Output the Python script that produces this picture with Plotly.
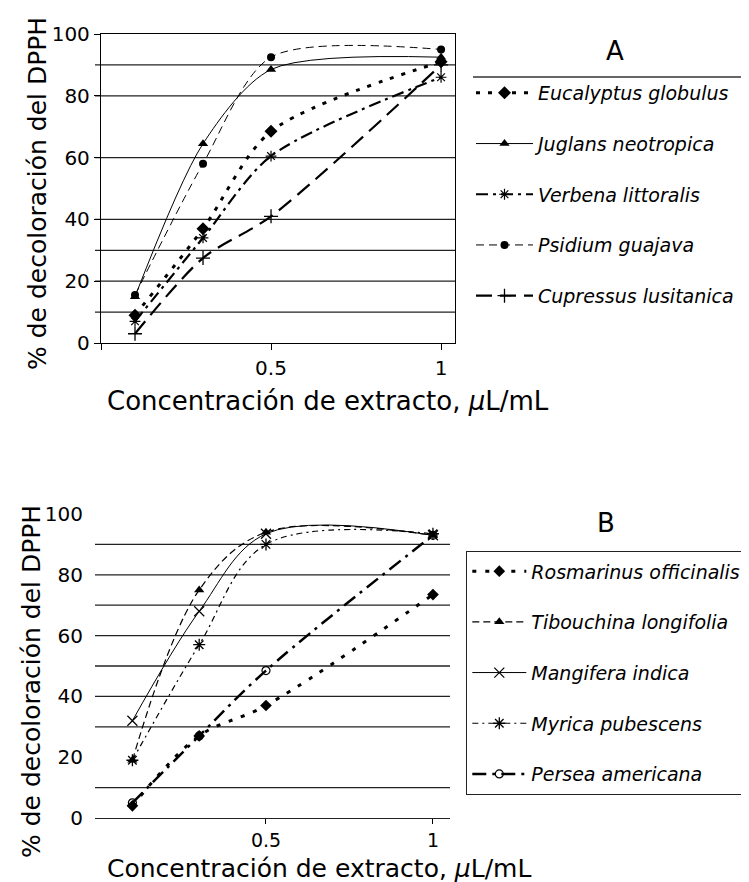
import plotly.graph_objects as go

# ---------------- data ----------------
conc = [0.1, 0.3, 0.5, 1.0]

# Panel A
series_a_names = ["Eucalyptus globulus", "Juglans neotropica", "Verbena littoralis",
                  "Psidium guajava", "Cupressus lusitanica"]
eucalyptus = [9, 37, 68.5, 91]
juglans = [15, 64.5, 88.5, 92.5]
verbena = [7, 34, 60.5, 86]
psidium = [15.5, 58, 92.5, 95]
cupressus = [3, 27.5, 41, 90]

# Panel B
series_b_names = ["Rosmarinus officinalis", "Tibouchina longifolia", "Mangifera indica",
                  "Myrica pubescens", "Persea americana"]
rosmarinus = [4, 27, 37, 73.5]
tibouchina = [19, 75, 94, 93]
mangifera = [32, 68, 93.5, 93]
myrica = [19, 57, 90, 93.5]
persea = [5, 27, 48.5, 93]

y_ticks = [0, 20, 40, 60, 80, 100]
x_tickvals_a = [0, 0.5, 1]
x_ticktext_a = ["", "0.5", "1"]
x_tickvals_b = [0.5, 1]
x_ticktext_b = ["0.5", "1"]
grid_a = [10, 20, 30, 40, 60, 80, 90]
grid_b = [10, 30, 40, 50, 60, 70, 80, 90]

# ---------------- figure ----------------
W, H = 749, 882
FONT = "DejaVu Sans"


def py(px):
    return 1 - px / H


def pxx(px):
    return px / W


fig = go.Figure()

styles_a = [
    dict(line=dict(width=3, dash="4px,8px"), marker=dict(symbol="diamond", size=10)),
    dict(line=dict(width=1, dash="solid"), marker=dict(symbol="triangle-up", size=9)),
    dict(line=dict(width=2.2, dash="12px,5px,3px,5px"),
         marker=dict(symbol="asterisk-open", size=9, line=dict(width=1.2, color="black"))),
    dict(line=dict(width=1, dash="8px,5px"), marker=dict(symbol="circle", size=8)),
    dict(line=dict(width=2.2, dash="16px,8px"),
         marker=dict(symbol="cross-thin-open", size=10, line=dict(width=1.3, color="black"))),
]
data_a = [eucalyptus, juglans, verbena, psidium, cupressus]
for i, (name, vals, st) in enumerate(zip(series_a_names, data_a, styles_a)):
    st["line"]["color"] = "black"
    st["line"]["shape"] = "spline"
    st["line"]["smoothing"] = 0.8
    st["marker"]["color"] = "black"
    fig.add_trace(go.Scatter(x=conc, y=vals, name=name, mode="lines+markers",
                             line=st["line"], marker=st["marker"],
                             xaxis="x", yaxis="y", legend="legend",
                             legendgroup="a%d" % i))

styles_b = [
    dict(line=dict(width=3, dash="4px,9px"), marker=dict(symbol="diamond", size=9)),
    dict(line=dict(width=1.2, dash="7px,4px"), marker=dict(symbol="triangle-up", size=9)),
    dict(line=dict(width=1, dash="solid"),
         marker=dict(symbol="x-thin-open", size=10, line=dict(width=1.2, color="black"))),
    dict(line=dict(width=1.2, dash="6px,4px,2px,4px"),
         marker=dict(symbol="asterisk-open", size=10, line=dict(width=1.3, color="black"))),
    dict(line=dict(width=2.5, dash="14px,6px,3px,6px"),
         marker=dict(symbol="circle-open", size=8, line=dict(width=1.2, color="black"))),
]
data_b = [rosmarinus, tibouchina, mangifera, myrica, persea]
for i, (name, vals, st) in enumerate(zip(series_b_names, data_b, styles_b)):
    st["line"]["color"] = "black"
    st["line"]["shape"] = "spline"
    st["marker"]["color"] = "black"
    fig.add_trace(go.Scatter(x=conc, y=vals, name=name, mode="lines+markers",
                             line=st["line"], marker=st["marker"],
                             xaxis="x2", yaxis="y2", legend="legend2",
                             legendgroup="b%d" % i))

# gridlines
shapes = []
for g in grid_a:
    shapes.append(dict(type="line", xref="x domain", yref="y", x0=-0.017, x1=1, y0=g, y1=g,
                       line=dict(color="#222", width=1.3), layer="below"))
for g in grid_b:
    shapes.append(dict(type="line", xref="x2 domain", yref="y2", x0=0, x1=1, y0=g, y1=g,
                       line=dict(color="#222", width=1.3), layer="below"))
# legend A top rule
shapes.append(dict(type="line", xref="paper", yref="paper", x0=pxx(465), x1=1,
                   y0=py(69), y1=py(69), line=dict(color="#333", width=1.3)))

axis_font = dict(family=FONT, size=20, color="black")
fig.update_layout(
    width=W, height=H,
    margin=dict(l=0, r=0, t=0, b=0, autoexpand=False),
    paper_bgcolor="white", plot_bgcolor="white",
    font=dict(family=FONT, color="black"),
    shapes=shapes,
    xaxis=dict(domain=[pxx(93), pxx(447)], range=[0, 1.041], tickvals=x_tickvals_a,
               ticktext=x_ticktext_a, ticks="outside", ticklen=6, tickcolor="black",
               showline=True, linecolor="black", linewidth=1.3, mirror=True,
               showgrid=False, zeroline=False, tickfont=axis_font, anchor="y",
               ticklabelstandoff=1),
    yaxis=dict(domain=[py(335), py(26)], range=[0, 100], tickvals=y_ticks,
               ticks="outside", ticklen=6, tickcolor="black",
               showline=True, linecolor="black", linewidth=1.3, mirror=True,
               showgrid=False, zeroline=False, tickfont=axis_font, anchor="x"),
    xaxis2=dict(domain=[pxx(87), pxx(442)], range=[-0.012, 1.051], tickvals=x_tickvals_b,
                ticktext=x_ticktext_b, ticks="outside", ticklen=5, tickcolor="black",
                showline=True, linecolor="#222", linewidth=1.3, mirror=False,
                showgrid=False, zeroline=False,
                tickfont=dict(family=FONT, size=19, color="black"), anchor="y2",
                ticklabelstandoff=0),
    yaxis2=dict(domain=[py(810), py(506)], range=[0, 100], tickvals=y_ticks,
                ticks="outside", ticklen=7, tickcolor="rgba(0,0,0,0)",
                showline=False, showgrid=False, zeroline=False, tickfont=axis_font,
                anchor="x2"),
    legend=dict(x=pxx(463), y=py(66), xanchor="left", yanchor="top",
                font=dict(family=FONT, size=19, style="italic", color="black"),
                itemwidth=57, tracegroupgap=23, bgcolor="rgba(0,0,0,0)",
                borderwidth=0),
    legend2=dict(x=pxx(458), y=py(543), xanchor="left", yanchor="top",
                 font=dict(family=FONT, size=19, style="italic", color="black"),
                 itemwidth=54, tracegroupgap=23, bgcolor="white",
                 bordercolor="#222", borderwidth=1.3),
)

ann_font = dict(family=FONT, size=25, color="black")
title_font = dict(family=FONT, size=26, color="black")
annotations = [
    dict(text="% de decoloración del DPPH", textangle=-90, x=pxx(29), y=py(186),
         xref="paper", yref="paper", showarrow=False, font=ann_font,
         xanchor="center", yanchor="middle"),
    dict(text="% de decoloración del DPPH", textangle=-90, x=pxx(23), y=py(674),
         xref="paper", yref="paper", showarrow=False, font=ann_font,
         xanchor="center", yanchor="middle"),
    dict(text="Concentración de extracto, <i>μ</i>L/mL", x=pxx(97), y=py(393),
         xref="paper", yref="paper", showarrow=False, font=title_font,
         xanchor="left", yanchor="middle"),
    dict(text="Concentración de extracto, <i>μ</i>L/mL", x=pxx(97), y=py(860),
         xref="paper", yref="paper", showarrow=False,
         font=dict(family=FONT, size=25, color="black"),
         xanchor="left", yanchor="middle"),
    dict(text="A", x=pxx(607), y=py(43), xref="paper", yref="paper", showarrow=False,
         font=dict(family=FONT, size=26, color="black"), xanchor="center", yanchor="middle"),
    dict(text="B", x=pxx(598), y=py(515), xref="paper", yref="paper", showarrow=False,
         font=dict(family=FONT, size=26, color="black"), xanchor="center", yanchor="middle"),
]
fig.update_layout(annotations=annotations)

fig.write_html("out.html")
